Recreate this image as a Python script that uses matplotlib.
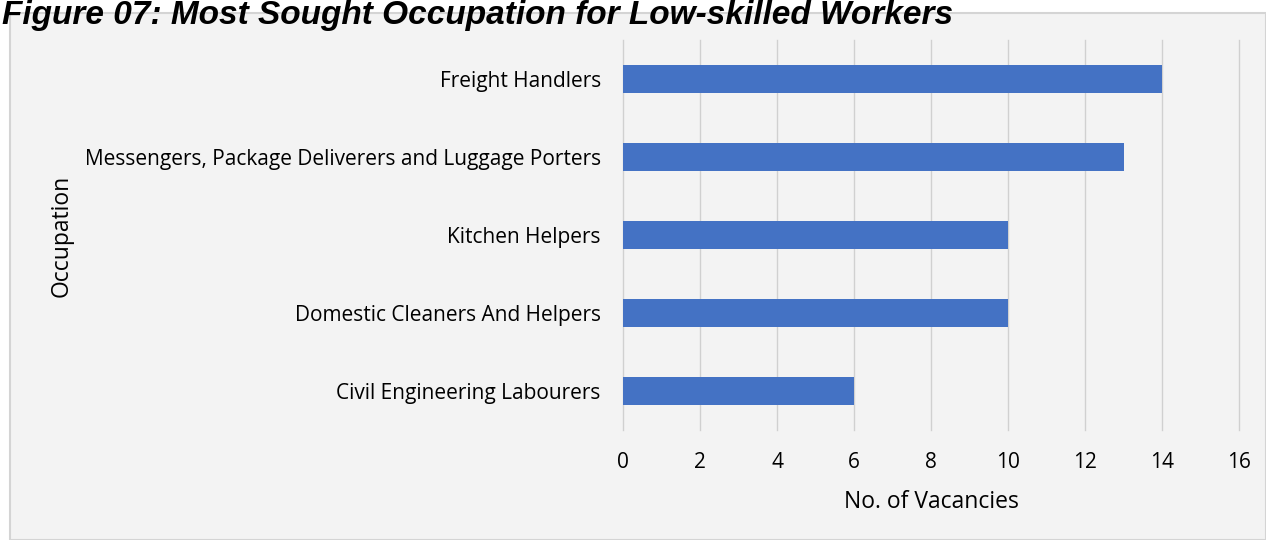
import matplotlib.pyplot as plt
from matplotlib.patches import Rectangle

occupations = [
    "Freight Handlers",
    "Messengers, Package Deliverers and Luggage Porters",
    "Kitchen Helpers",
    "Domestic Cleaners And Helpers",
    "Civil Engineering Labourers",
]
vacancies = [14, 13, 10, 10, 6]
xticks = [0, 2, 4, 6, 8, 10, 12, 14, 16]

W, H = 1266, 540
fig = plt.figure(figsize=(W / 100, H / 100), dpi=100)
fig.patch.set_facecolor("white")

# chart area box
fig.patches.append(Rectangle((10 / W, 0), 1 - 10 / W, 1 - 13 / H,
                             transform=fig.transFigure, facecolor="#f3f3f3",
                             edgecolor="#d4d4d4", linewidth=1.5, zorder=-1))

fig.text(2 / W, 1 - 24 / H, "Figure 07: Most Sought Occupation for Low-skilled Workers",
         fontsize=24, fontweight="bold", style="italic",
         family="Liberation Sans", va="baseline", ha="left", zorder=3)

ax = fig.add_axes([623 / W, 110 / H, (1239 - 623) / W, 390 / H])
ax.set_zorder(2)
ax.set_facecolor("none")
y = list(range(len(occupations)))
ax.barh(y, vacancies, height=0.36, color="#4472C4", zorder=3)
ax.set_ylim(len(occupations) - 0.5, -0.5)
ax.set_xlim(0, 16)
ax.set_xticks(xticks)
ax.set_yticks(y)
ax.set_yticklabels(occupations)
ax.grid(axis="x", color="#d0d0d0", linewidth=1)
for gl in ax.get_xgridlines():
    gl.set_clip_on(False)
for s in ax.spines.values():
    s.set_visible(False)
ax.tick_params(axis="both", length=0, labelsize=15, colors="black")
ax.tick_params(axis="y", pad=16)
ax.tick_params(axis="x", pad=16)
for lab in ax.get_xticklabels() + ax.get_yticklabels():
    lab.set_family("Open Sans")
ax.set_xlabel("No. of Vacancies", fontsize=16.5, family="Open Sans", labelpad=12)
fig.text(62 / W, 1 - 236 / H, "Occupation", rotation=90, fontsize=16.5,
         family="Open Sans", ha="center", va="center", zorder=3)

fig.savefig("out.png", dpi=100)
